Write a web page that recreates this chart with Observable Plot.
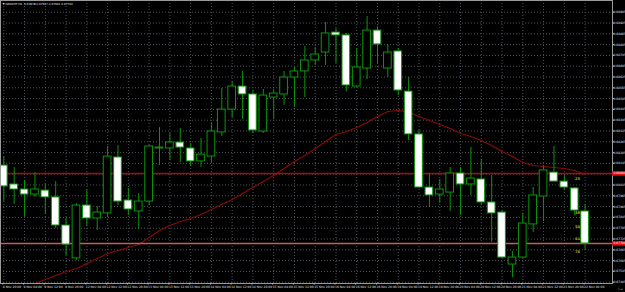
<!DOCTYPE html>
<html>
<head>
<meta charset="utf-8">
<script src="https://cdn.jsdelivr.net/npm/d3@7"></script>
<script src="https://cdn.jsdelivr.net/npm/@observablehq/plot@0.6"></script>
<style>
  html, body { margin: 0; padding: 0; background: #000; }
  #chart { width: 625px; height: 292px; overflow: hidden; }
</style>
</head>
<body>
<div id="chart"></div>
<script>
// ---- data (NZDCHF, H4) ----
const symbolTitle = "NZDCHF,H4";
const opens  = [0.68133,0.68028,0.68000,0.67972,0.67994,0.67956,0.67800,0.67617,0.67911,0.67839,
                0.67867,0.68178,0.67939,0.67878,0.67933,0.68228,0.68228,0.68261,0.68228,0.68156,
                0.68183,0.68317,0.68444,0.68572,0.68528,0.68322,0.68511,0.68528,0.68622,0.68656,
                0.68717,0.68761,0.68872,0.68856,0.68572,0.68672,0.68883,0.68672,0.68767,0.68544,
                0.68306,0.68011,0.67972,0.67983,0.68089,0.68028,0.68056,0.67928,0.67872,0.67583,
                0.67622,0.67806,0.67961,0.68094,0.68044,0.68006,0.67878];
const highs  = [0.68183,0.68122,0.68050,0.68094,0.68028,0.68044,0.67839,0.67922,0.68000,0.67906,
                0.68239,0.68244,0.68006,0.67978,0.68244,0.68344,0.68311,0.68339,0.68256,0.68283,
                0.68372,0.68561,0.68600,0.68656,0.68550,0.68556,0.68556,0.68656,0.68678,0.68794,
                0.68789,0.68928,0.68894,0.68867,0.68783,0.68961,0.68906,0.68806,0.68783,0.68622,
                0.68328,0.68089,0.68056,0.68122,0.68122,0.68233,0.68167,0.68078,0.67883,0.67656,
                0.67867,0.68011,0.68128,0.68239,0.68078,0.68011,0.67917];
const lows   = [0.67933,0.67917,0.67850,0.67956,0.67861,0.67783,0.67633,0.67606,0.67794,0.67772,
                0.67844,0.67911,0.67856,0.67778,0.67911,0.68133,0.68161,0.68150,0.68128,0.68122,
                0.68150,0.68294,0.68400,0.68389,0.68311,0.68311,0.68389,0.68467,0.68456,0.68511,
                0.68689,0.68689,0.68700,0.68544,0.68567,0.68611,0.68700,0.68622,0.68522,0.68272,
                0.68006,0.67900,0.67922,0.67878,0.67856,0.67967,0.67911,0.67706,0.67617,0.67511,
                0.67617,0.67761,0.67822,0.68044,0.67994,0.67856,0.67661];
const closes = [0.68017,0.68000,0.67972,0.68000,0.67956,0.67800,0.67694,0.67911,0.67839,0.67872,
                0.68183,0.67933,0.67889,0.67933,0.68239,0.68233,0.68261,0.68233,0.68156,0.68194,
                0.68322,0.68444,0.68572,0.68528,0.68328,0.68522,0.68533,0.68622,0.68656,0.68717,
                0.68750,0.68867,0.68856,0.68578,0.68678,0.68883,0.68806,0.68761,0.68550,0.68306,
                0.68011,0.67967,0.68000,0.68089,0.68028,0.68061,0.67928,0.67867,0.67622,0.67622,
                0.67811,0.67967,0.68106,0.68044,0.68011,0.67883,0.67700];
// moving average (dark red line)
const maValues = [0.67383,0.67406,0.67450,0.67478,0.67500,0.67522,0.67544,0.67561,0.67589,0.67617,
                  0.67644,0.67661,0.67678,0.67694,0.67733,0.67772,0.67800,0.67822,0.67839,0.67861,
                  0.67889,0.67917,0.67944,0.67978,0.68011,0.68044,0.68078,0.68117,0.68156,0.68189,
                  0.68228,0.68267,0.68306,0.68322,0.68344,0.68372,0.68406,0.68433,0.68439,0.68431,
                  0.68406,0.68383,0.68361,0.68339,0.68311,0.68294,0.68272,0.68244,0.68211,0.68183,
                  0.68150,0.68133,0.68128,0.68122,0.68117,0.68106,0.68083];
// time-axis labels, one every second bar
const timeLabels = ["8 Nov 20:00","9 Nov 04:00","9 Nov 12:00","9 Nov 20:00","12 Nov 04:00","12 Nov 12:00",
  "12 Nov 20:00","13 Nov 04:00","13 Nov 12:00","13 Nov 20:00","14 Nov 04:00","14 Nov 12:00","14 Nov 20:00",
  "15 Nov 04:00","15 Nov 12:00","15 Nov 20:00","16 Nov 04:00","16 Nov 12:00","16 Nov 20:00","19 Nov 04:00",
  "19 Nov 12:00","19 Nov 20:00","20 Nov 04:00","20 Nov 12:00","20 Nov 20:00","21 Nov 04:00","21 Nov 12:00",
  "21 Nov 20:00","22 Nov 04:00"];
// price-axis tick labels
const priceTicks = [0.68985,0.68925,0.68865,0.68805,0.68745,0.68685,0.68625,0.68565,0.68505,0.68445,
                     0.68385,0.68325,0.68265,0.68205,0.68145,0.68085,0.68025,0.67965,0.67905,0.67845,
                     0.67785,0.67725,0.67665,0.67605,0.67545,0.67485];
const levelLine = [0.68089];   // horizontal line (dark red)
const bidLine = [0.67700];     // current price line
const fiboLevels = [0.68061, 0.67872, 0.67794, 0.67728, 0.67656];
const fiboTexts = ["23","38","50","61","76"];

// ---- build ----
const candles = opens.map((o, i) => ({i, o, h: highs[i], l: lows[i], c: closes[i]}));
const ma = maValues.map((v, i) => ({i, v}));
const labelIdx = timeLabels.map((t, k) => k * 2);
const xDomain = [-0.318, 58.64];
const yDomain = [0.674778, 0.6905];
const pxPerBar = (612) / (xDomain[1] - xDomain[0]);
const axisEnd = xDomain[1] + 13 / pxPerBar;
const green = "#0b960b";
const grid = "#4c535c";
const fibo = fiboLevels.map((v, k) => ({v, t: fiboTexts[k], i: opens.length - 1}));
const fs = 3;

const chart = Plot.plot({
  width: 625,
  height: 292,
  marginLeft: 0,
  marginRight: 13,
  marginTop: 0,
  marginBottom: 9,
  style: {background: "#000", color: "#e0e0e0", fontFamily: "DejaVu Sans", fontSize: fs + "px"},
  x: {type: "linear", domain: xDomain, axis: null},
  y: {domain: yDomain, axis: null},
  marks: [
    Plot.ruleY(priceTicks, {stroke: grid, strokeDasharray: "1,2"}),
    Plot.ruleX(labelIdx, {stroke: grid, strokeDasharray: "1,2"}),
    Plot.line(ma, {x: "i", y: "v", stroke: "#8a0a0a", strokeWidth: 1.1, clip: true}),
    Plot.ruleY(levelLine, {stroke: "#a50c0c", strokeWidth: 1.3}),
    Plot.ruleY(bidLine, {stroke: "#c85c5c", strokeWidth: 1.3}),
    Plot.ruleX(candles, {x: "i", y1: "l", y2: "h", stroke: green, strokeWidth: 1}),
    Plot.rect(candles, {
      x1: d => d.i - 0.37, x2: d => d.i + 0.37,
      y1: "o", y2: "c",
      fill: d => d.c >= d.o ? "#000" : "#fff",
      stroke: green, strokeWidth: 1
    }),
    Plot.text(fibo, {x: "i", y: "v", text: "t", dx: -7.5, fill: "#b0b020", fontSize: 3.6, fontWeight: "bold", textAnchor: "middle"}),
    Plot.frame({stroke: "#9a9a9a"}),
    Plot.axisY(priceTicks, {anchor: "right", tickSize: 1, tickPadding: 0, tickFormat: d3.format(".5f"), stroke: "#bbb", fill: "#e0e0e0", fontSize: fs}),
    Plot.axisX(labelIdx, {anchor: "bottom", tickSize: 1.5, tickPadding: 1, textAnchor: "start", dx: -1,
      tickFormat: (d) => timeLabels[d / 2], fill: "#e0e0e0", stroke: "#bbb", fontSize: fs}),
    // price-label boxes on the axis
    Plot.ruleY([...levelLine, ...bidLine], {x1: xDomain[1], x2: axisEnd, stroke: "#e01010", strokeWidth: 4.5, clip: false}),
    Plot.text([...levelLine, ...bidLine], {y: d => d, frameAnchor: "right", dx: 1, textAnchor: "start",
      text: d => d3.format(".5f")(d), fill: "#fff", fontSize: fs}),
    Plot.text([`${symbolTitle}  ${opens.at(-1).toFixed(5)} ${highs.at(-1).toFixed(5)} ${lows.at(-1).toFixed(5)} ${closes.at(-1).toFixed(5)}`],
      {frameAnchor: "top-left", dx: 5, dy: 2.5, text: d => d, fill: "#e8e8e8", fontSize: 2.8, textAnchor: "start", lineAnchor: "top"}),
    Plot.text(["▾"], {frameAnchor: "top-left", dx: 2, dy: 2, text: d => d, fill: "#e0e0e0", fontSize: 4, lineAnchor: "top"})
  ]
});
document.getElementById("chart").appendChild(chart);
</script>
</body>
</html>
